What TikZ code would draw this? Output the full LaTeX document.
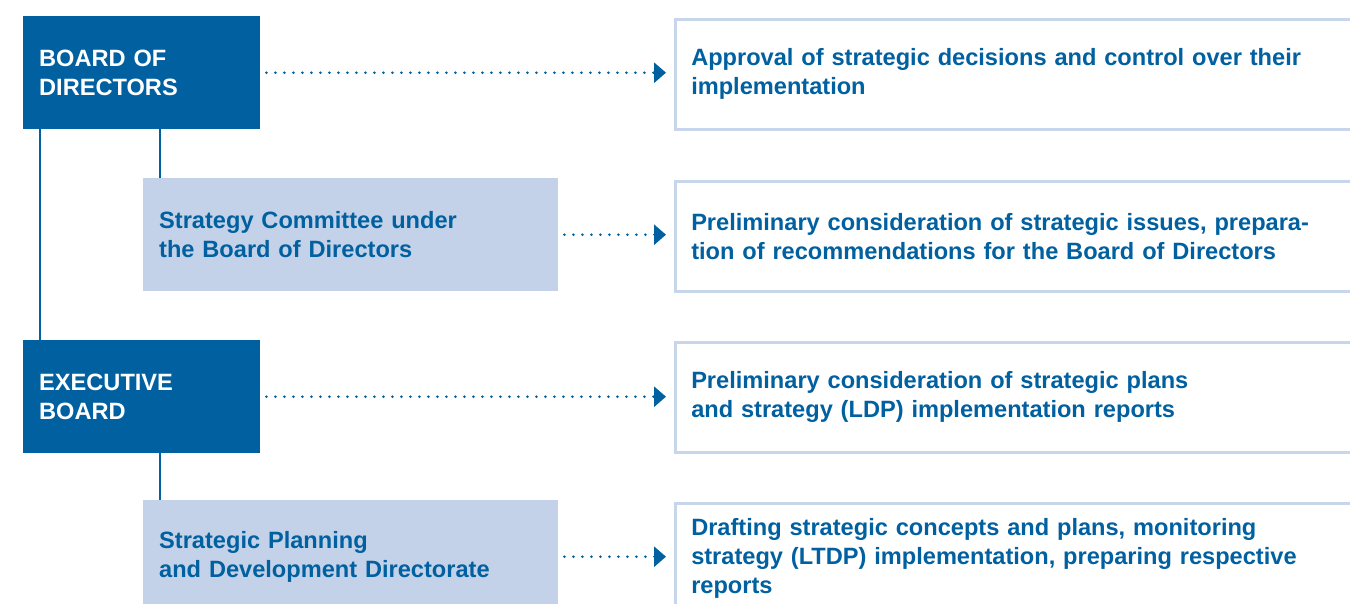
\documentclass[tikz,border=0pt]{standalone}
\usepackage{fontspec}
\setmainfont{Liberation Sans}
\usetikzlibrary{arrows.meta}
\definecolor{darkblue}{RGB}{0,96,160}
\definecolor{paleblue}{RGB}{196,210,233}
\definecolor{edgeblue}{RGB}{200,214,236}

\tikzset{
  boxfont/.style={font=\fontsize{23.6}{29}\selectfont\bfseries},
  bodybox/.style={boxfont, anchor=north west, fill=darkblue, text=white,
    minimum width=237pt, minimum height=113pt, inner xsep=16pt,
    text width=205pt, align=left},
  unitbox/.style={boxfont, anchor=north west, fill=paleblue, text=darkblue,
    minimum width=415pt, minimum height=113pt, inner xsep=16pt,
    text width=383pt, align=left},
  taskbox/.style={boxfont, anchor=north west, draw=edgeblue, line width=2.5pt,
    text=darkblue, minimum width=720pt, minimum height=110pt,
    inner xsep=16pt, text width=688pt, align=left},
  link/.style={darkblue, line width=2pt},
  flow/.style={darkblue, line width=2.8pt, line cap=round,
    dash pattern=on 0pt off 9pt, -{Triangle[length=12pt,width=20pt]}}
}

\begin{document}
\begin{tikzpicture}[x=1pt,y=-1pt]
\path[use as bounding box, clip] (0,0) rectangle (1350,603);

\node[bodybox] (board) at (23,16) {BOARD OF\\DIRECTORS};
\node[unitbox] (stratcom) at (143,178) {Strategy Committee under\\the Board of Directors};
\node[bodybox] (exec) at (23,340) {EXECUTIVE\\BOARD};
\node[unitbox] (planning) at (143,500) {Strategic Planning\\and Development Directorate};

\node[taskbox] (approve) at (674,18) {Approval of strategic decisions and control over their\\implementation};
\node[taskbox] (prelimissues) at (674,180) {Preliminary consideration of strategic issues, prepara-\\tion of recommendations for the Board of Directors};
\node[taskbox] (prelimplans) at (674,341) {Preliminary consideration of strategic plans\\and strategy (LDP) implementation reports};
\node[taskbox] (drafting) at (674,502) {Drafting strategic concepts and plans, monitoring\\strategy (LTDP) implementation, preparing respective\\reports};

\draw[link] ([xshift=17pt]board.south west) -- ([xshift=17pt]exec.north west);
\draw[link] ([xshift=17pt]stratcom.north west) -- ([xshift=17pt]stratcom.north west |- board.south);
\draw[link] ([xshift=17pt]planning.north west) -- ([xshift=17pt]planning.north west |- exec.south);

\draw[flow] ([xshift=6pt]board.east) -- ([xshift=-8pt]board.east -| approve.west);
\draw[flow] ([xshift=6pt]stratcom.east) -- ([xshift=-8pt]stratcom.east -| prelimissues.west);
\draw[flow] ([xshift=6pt]exec.east) -- ([xshift=-8pt]exec.east -| prelimplans.west);
\draw[flow] ([xshift=6pt]planning.east) -- ([xshift=-8pt]planning.east -| drafting.west);
\end{tikzpicture}
\end{document}
